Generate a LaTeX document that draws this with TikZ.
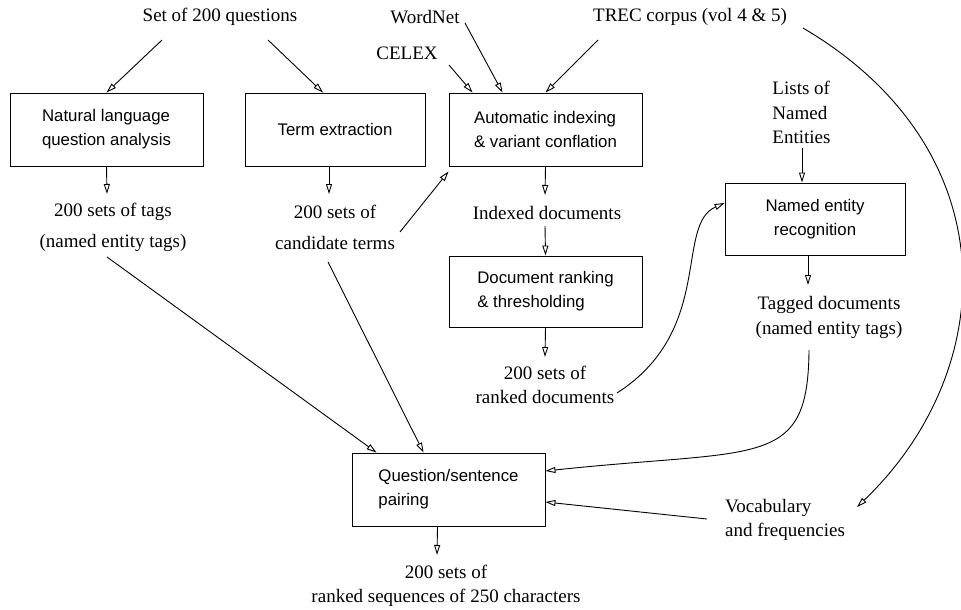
\documentclass[tikz,border=0pt]{standalone}
\usepackage{fontspec}
\setmainfont{Liberation Serif}
\setsansfont{Liberation Sans}
\usepackage{tikz}
\usetikzlibrary{arrows.meta}
\tikzset{
  >={Triangle[open,length=5pt,width=3pt]},
}
\tikzstyle{flow}=[->,line width=0.45pt]
\tikzstyle{every node}=[font=\fontsize{9.5}{12.25}\selectfont,inner sep=0pt]
\tikzstyle{stage}=[draw,line width=0.45pt,align=left,minimum width=96.5pt,minimum height=36.5pt,
  font=\sffamily\fontsize{8.4}{12}\selectfont]

\begin{document}
\begin{tikzpicture}[x=0.5pt,y=-0.5pt]
  \useasboundingbox (0,0) rectangle (961,609);

  % sources
  \node (q) at (220,17) {Set of 200 questions};
  \node (wn) at (425,17) {WordNet};
  \node (trec) at (690,17) {TREC corpus (vol 4 \& 5)};
  \node (celex) at (407,53) {CELEX};
  \node[align=left] (lists) at (801.5,112.5) {Lists of\\Named\\Entities};

  % processing boxes
  \node[stage] (nla) at (106.5,129.5) {Natural language\\question analysis};
  \node[stage,minimum width=90pt] (term) at (335,129.5) {Term extraction};
  \node[stage] (auto) at (545.5,129.5) {Automatic indexing\\\& variant conflation};
  \node[stage,minimum height=35.5pt] (doc) at (545.5,291.5) {Document ranking\\\& thresholding};
  \node[stage,align=center,minimum width=90pt,minimum height=36pt] (ner) at (815,219) {Named entity\\recognition};
  \node[stage] (quest) at (448.5,489.5) {Question/sentence\\pairing};

  % intermediate results
  \node[align=center] (tags) at (113,227.5) {200 sets of tags\\[3.25pt](named entity tags)};
  \node[align=center] (cand) at (335,227.5) {200 sets of\\[3.25pt]candidate terms};
  \node (idx) at (547,213) {Indexed documents};
  \node[align=center] (rdocs) at (545,385) {200 sets of\\ranked documents};
  \node[align=center] (tagged) at (829,317.5) {Tagged documents\\(named entity tags)};
  \node[align=left] (vocab) at (785,520) {Vocabulary\\and frequencies};
  \node[align=center] (out) at (446,586) {200 sets of\\ranked sequences of 250 characters};

  % arrows
  \draw[flow] ([shift={(-58,23)}]q.center) -- (nla.north);
  \draw[flow] ([shift={(48,23)}]q.center) -- ([shift={(-12,0)}]term.north);
  \draw[flow] ([shift={(42,12)}]celex.center) -- ([shift={(24,0)}]auto.north west);
  \draw[flow] ([shift={(40,6)}]wn.center) -- ([shift={(54,0)}]auto.north west);
  \draw[flow] ([shift={(-92,23)}]trec.center) -- (auto.north);
  \draw[flow] ([shift={(113,11)}]trec.center) .. controls +(207,122) and +(143,-137) .. ([shift={(72,-13)}]vocab.center);

  \draw[flow] (nla.south) -- ([shift={(-6,-33.5)}]tags.center);
  \draw[flow] ([shift={(-6,0)}]term.south) -- ([shift={(-6,-33.5)}]cand.center);
  \draw[flow] ([shift={(65,4.5)}]cand.center) -- ([shift={(0,5)}]auto.south west);
  \draw[flow] (auto.south) -- ([shift={(-2,-18)}]idx.center);
  \draw[flow] ([shift={(-2,13)}]idx.center) -- (doc.north);
  \draw[flow] (doc.south) -- ([shift={(0,-28)}]rdocs.center);
  \draw[flow] ([shift={(72,8)}]rdocs.center) .. controls +(98,-63) and +(-50,22) .. ([shift={(0,-16)}]ner.west);
  \draw[flow] ([shift={(0.5,35.5)}]lists.center) -- ([shift={(-13,0)}]ner.north);
  \draw[flow] ([shift={(-7,0)}]ner.south) -- ([shift={(-21,-32.5)}]tagged.center);
  \draw[flow] ([shift={(-20,32.5)}]tagged.center) .. controls +(-1,120) and +(215,-23) .. ([shift={(0,-18.5)}]quest.east);

  \draw[flow] ([shift={(-6,29.5)}]tags.center) -- ([shift={(25,0)}]quest.north west);
  \draw[flow] ([shift={(-7,34.5)}]cand.center) -- ([shift={(72,0)}]quest.north west);
  \draw[flow] ([shift={(-78,-1)}]vocab.center) -- ([shift={(0,12.5)}]quest.east);
  \draw[flow] ([shift={(-11,0)}]quest.south) -- ([shift={(-9,-31)}]out.center);
\end{tikzpicture}
\end{document}
